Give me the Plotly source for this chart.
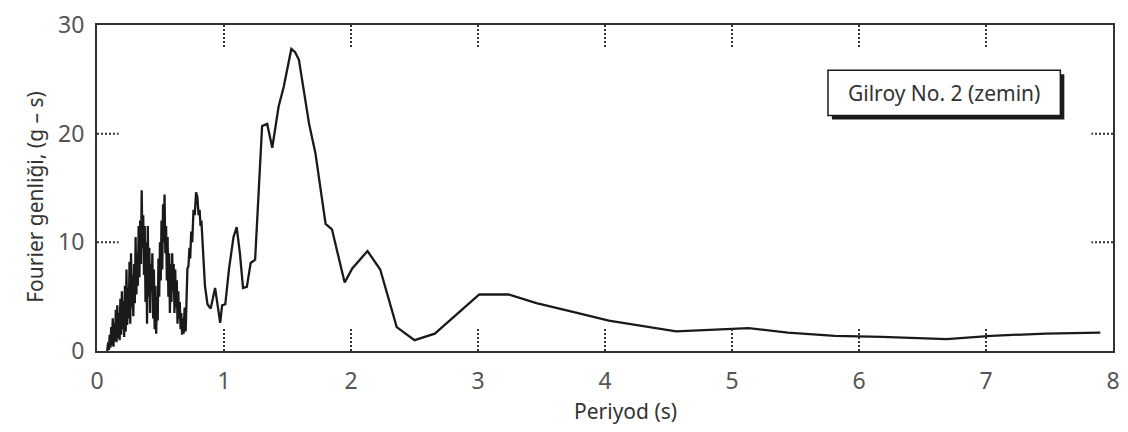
import plotly.graph_objects as go

# Fourier amplitude spectrum, Gilroy No. 2 (soil site)
period = [
    0.080, 0.088, 0.094, 0.100, 0.106, 0.112, 0.118, 0.124, 0.130, 0.136,
    0.142, 0.148, 0.154, 0.160, 0.166, 0.172, 0.178, 0.184, 0.190, 0.196,
    0.202, 0.208, 0.214, 0.220, 0.226, 0.232, 0.238, 0.244, 0.250, 0.256,
    0.262, 0.268, 0.274, 0.280, 0.286, 0.292, 0.298, 0.304, 0.310, 0.316,
    0.322, 0.328, 0.334, 0.340, 0.346, 0.352, 0.358, 0.364, 0.370, 0.376,
    0.382, 0.388, 0.394, 0.400, 0.406, 0.412, 0.418, 0.424, 0.430, 0.436,
    0.442, 0.448, 0.454, 0.460, 0.466, 0.472, 0.478, 0.484, 0.490, 0.496,
    0.502, 0.508, 0.514, 0.520, 0.526, 0.532, 0.538, 0.544, 0.550, 0.556,
    0.562, 0.568, 0.574, 0.580, 0.586, 0.592, 0.598, 0.604, 0.610, 0.616,
    0.622, 0.628, 0.634, 0.640, 0.646, 0.652, 0.658, 0.664, 0.670, 0.676,
    0.682, 0.690, 0.698, 0.705, 0.712, 0.720, 0.728, 0.734, 0.742, 0.750,
    0.760, 0.770, 0.780, 0.790, 0.800, 0.808, 0.815, 0.822, 0.830, 0.850,
    0.870, 0.895, 0.915, 0.930, 0.950, 0.970, 0.985, 1.010, 1.040, 1.075,
    1.100, 1.125, 1.150, 1.180, 1.210, 1.245, 1.300, 1.340, 1.380, 1.430,
    1.470, 1.530, 1.560, 1.590, 1.670, 1.720, 1.800, 1.850, 1.950, 2.010,
    2.130, 2.230, 2.360, 2.500, 2.660, 3.010, 3.240, 3.460, 3.780, 4.030,
    4.560, 5.030, 5.130, 5.440, 5.810, 6.180, 6.690, 7.040, 7.470, 7.900,
]
amplitude = [
    0.0, 0.8, 0.1, 1.5, 0.3, 2.2, 0.5, 3.0, 0.4, 2.6,
    0.9, 3.8, 0.8, 4.2, 1.2, 3.5, 1.0, 4.8, 1.5, 5.5,
    2.0, 4.6, 1.3, 6.0, 1.8, 7.5, 2.4, 5.8, 3.0, 8.2,
    2.5, 9.0, 4.0, 7.0, 3.2, 8.0, 4.4, 10.5, 5.2, 9.0,
    6.0, 11.5, 6.8, 12.0, 8.0, 14.8, 9.5, 12.5, 7.0, 11.5,
    4.5, 10.0, 2.5, 11.5, 5.0, 9.5, 3.5, 8.0, 5.5, 9.0,
    3.0, 7.5, 2.0, 6.0, 1.6, 5.0, 2.8, 8.5, 5.0, 10.0,
    6.5, 12.0, 7.5, 13.5, 10.0, 14.4, 9.0, 11.5, 6.5, 10.5,
    5.0, 9.0, 3.5, 8.0, 4.5, 9.0, 5.5, 8.0, 3.5, 7.5,
    4.0, 6.5, 2.5, 5.5, 3.0, 4.5, 2.0, 3.5, 1.5, 3.0,
    1.6, 4.0, 1.8, 6.0, 7.6, 7.8, 9.5, 8.5, 11.0, 10.0,
    13.0, 12.5, 14.6, 14.2, 12.5, 13.0, 11.5, 12.0, 10.0, 6.0,
    4.3, 3.9, 5.0, 5.8, 4.2, 2.6, 4.2, 4.3, 7.6, 10.5,
    11.4, 9.0, 5.8, 5.9, 8.1, 8.4, 20.7, 20.9, 18.7, 22.5,
    24.3, 27.8, 27.5, 26.8, 20.9, 18.2, 11.7, 11.2, 6.3, 7.6,
    9.2, 7.5, 2.2, 1.0, 1.6, 5.2, 5.2, 4.4, 3.5, 2.8,
    1.8, 2.1, 2.1, 1.7, 1.4, 1.3, 1.1, 1.4, 1.6, 1.7,
]

x_ticks = [0, 1, 2, 3, 4, 5, 6, 7, 8]
y_ticks = [0, 10, 20, 30]
x_range = [0, 8]
y_range = [0, 30]
legend_text = "Gilroy No. 2 (zemin)"
x_title = "Periyod (s)"
y_title = "Fourier genliği, (g – s)"

FONT = "Noto Sans"
INK = "#1a1a1a"
GREY = "#555555"

fig = go.Figure()
fig.add_trace(go.Scatter(
    x=period, y=amplitude, mode="lines",
    line=dict(color=INK, width=2.3), showlegend=False, hoverinfo="skip",
))

# dotted inward tick marks on all four sides of the frame
tick_dx = 0.17
tick_dy = 2.2
shapes = []
dot = dict(color="#333333", width=2, dash="2px,2px")
for xv in x_ticks[1:-1]:
    shapes.append(dict(type="line", xref="x", yref="y", x0=xv, x1=xv,
                       y0=y_range[0], y1=y_range[0] + tick_dy, line=dot, layer="above"))
    shapes.append(dict(type="line", xref="x", yref="y", x0=xv, x1=xv,
                       y0=y_range[1], y1=y_range[1] - tick_dy, line=dot, layer="above"))
for yv in y_ticks[1:-1]:
    shapes.append(dict(type="line", xref="x", yref="y", y0=yv, y1=yv,
                       x0=x_range[0], x1=x_range[0] + tick_dx, line=dot, layer="above"))
    shapes.append(dict(type="line", xref="x", yref="y", y0=yv, y1=yv,
                       x0=x_range[1], x1=x_range[1] - tick_dx, line=dot, layer="above"))

# label box with a drop shadow (paper coordinates)
W, H = 1128, 432
L, R, T, B = 97, 8, 20, 81
pw, ph = W - L - R, H - T - B


def px_x(p):
    return (p - L) / pw


def px_y(p):
    return (H - B - p) / ph


bx0, bx1, by0, by1 = 833, 1067, 66, 112
shapes.append(dict(type="rect", xref="paper", yref="paper",
                   x0=px_x(bx0 + 4), x1=px_x(bx1 + 4), y0=px_y(by1 + 4), y1=px_y(by0 + 4),
                   fillcolor=INK, line=dict(width=0), layer="above"))
shapes.append(dict(type="rect", xref="paper", yref="paper",
                   x0=px_x(bx0), x1=px_x(bx1), y0=px_y(by1), y1=px_y(by0),
                   fillcolor="white", line=dict(color=INK, width=1.5), layer="above"))

annotations = [
    dict(text=legend_text, xref="paper", yref="paper",
         x=px_x((bx0 + bx1) / 2), y=px_y((by0 + by1) / 2),
         xanchor="center", yanchor="middle", showarrow=False,
         font=dict(family=FONT, size=21, color="#333333")),
    dict(text=x_title, xref="paper", yref="paper",
         x=px_x(629), y=px_y(412), xanchor="center", yanchor="middle",
         showarrow=False, font=dict(family=FONT, size=21, color="#333333")),
    dict(text=y_title, xref="paper", yref="paper",
         x=px_x(35), y=px_y(194), xanchor="center", yanchor="middle",
         textangle=-90, showarrow=False,
         font=dict(family=FONT, size=21, color="#333333")),
]

axis_common = dict(
    showgrid=False, zeroline=False, showline=True, mirror=True,
    linecolor="#333333", linewidth=2, ticks="",
    tickfont=dict(family=FONT, size=23, color=GREY),
)

fig.update_layout(
    width=W, height=H,
    margin=dict(l=L, r=R, t=T, b=B),
    paper_bgcolor="white", plot_bgcolor="white",
    xaxis=dict(range=x_range, tickvals=x_ticks, ticktext=[str(v) for v in x_ticks],
               ticklabelstandoff=8, **axis_common),
    yaxis=dict(range=y_range, tickvals=y_ticks, ticktext=[str(v) for v in y_ticks],
               ticklabelstandoff=6, **axis_common),
    shapes=shapes,
    annotations=annotations,
)

fig.write_html("out.html")
